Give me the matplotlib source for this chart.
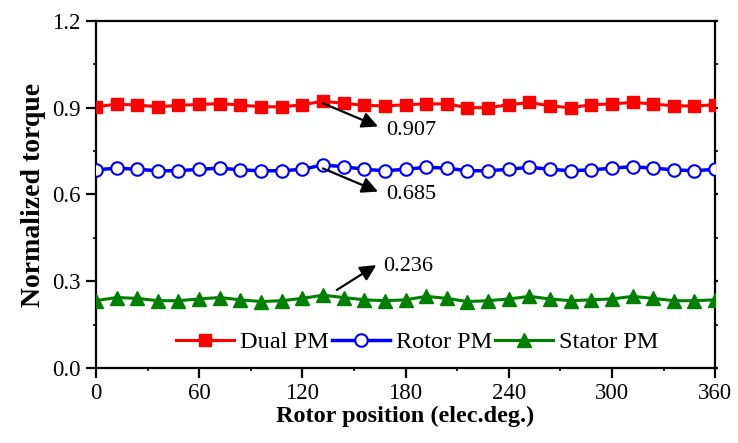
import numpy as np
import matplotlib
matplotlib.use('Agg')
import matplotlib.pyplot as plt
from matplotlib.ticker import MultipleLocator

plt.rcParams['font.family'] = ['Liberation Serif', 'DejaVu Serif']

# rotor position, 12 elec.deg. steps
pos = np.arange(0, 361, 12)

dual_pm = [0.903, 0.912, 0.909, 0.903, 0.908, 0.911, 0.914, 0.909, 0.903, 0.903, 0.910,
           0.922, 0.915, 0.908, 0.906, 0.910, 0.913, 0.913, 0.900, 0.900, 0.910, 0.918,
           0.906, 0.900, 0.910, 0.913, 0.918, 0.913, 0.906, 0.906, 0.910]
rotor_pm = [0.685, 0.691, 0.687, 0.682, 0.682, 0.687, 0.691, 0.685, 0.682, 0.682, 0.687,
            0.702, 0.696, 0.687, 0.682, 0.687, 0.694, 0.691, 0.682, 0.682, 0.687, 0.694,
            0.687, 0.682, 0.685, 0.691, 0.696, 0.691, 0.685, 0.682, 0.687]
stator_pm = [0.233, 0.244, 0.241, 0.233, 0.233, 0.239, 0.244, 0.236, 0.230, 0.233, 0.241,
             0.252, 0.244, 0.236, 0.233, 0.236, 0.248, 0.241, 0.230, 0.233, 0.239, 0.248,
             0.239, 0.233, 0.236, 0.239, 0.248, 0.241, 0.233, 0.233, 0.236]

# annotations: (text, arrow start, arrow tip, text position)
notes = [
    ('0.907', (132, 0.915), (164, 0.835), (169, 0.820)),
    ('0.685', (132, 0.690), (164, 0.610), (169, 0.600)),
    ('0.236', (140, 0.270), (163, 0.356), (167, 0.350)),
]

fig = plt.figure(figsize=(7.38, 4.43), dpi=100)
ax = fig.add_axes([0.130, 0.169, 0.839, 0.784])

ax.plot(pos, dual_pm, color='red', lw=2.2, marker='s', ms=9, label='Dual PM', zorder=3)
ax.plot(pos, rotor_pm, color='blue', lw=2.5, marker='o', ms=9, mfc='white', mew=1.5,
        label='Rotor PM', zorder=3)
ax.plot(pos, stator_pm, color='green', lw=2.2, marker='^', ms=10, label='Stator PM', zorder=3)

for txt, start, tip, tpos in notes:
    ax.annotate('', xy=tip, xytext=start,
                arrowprops=dict(arrowstyle='-|>', color='black', lw=1.6, mutation_scale=24,
                                shrinkA=0, shrinkB=0))
    ax.text(tpos[0], tpos[1], txt, fontsize=16, va='center', ha='left')

ax.set_xlim(0, 360)
ax.set_ylim(0, 1.2)
ax.xaxis.set_major_locator(MultipleLocator(60))
ax.xaxis.set_minor_locator(MultipleLocator(30))
ax.yaxis.set_major_locator(MultipleLocator(0.3))
ax.yaxis.set_minor_locator(MultipleLocator(0.15))
ax.yaxis.set_major_formatter(matplotlib.ticker.FormatStrFormatter('%.1f'))

for s in ax.spines.values():
    s.set_linewidth(1.6)
ax.tick_params(which='major', direction='out', length=7, width=1.6, labelsize=16.5, pad=4)
ax.tick_params(which='minor', direction='out', length=2.5, width=1.2)
ax.tick_params(axis='y', which='both', right=True)
for t in ax.yaxis.get_major_ticks() + ax.yaxis.get_minor_ticks():
    t.tick2line.set_markersize(2.5)

ax.set_xlabel('Rotor position (elec.deg.)', fontsize=17.5, fontweight='bold', labelpad=1)
ax.set_ylabel('Normalized torque', fontsize=20, fontweight='bold', labelpad=4)

ax.legend(loc='center', bbox_to_anchor=(0.519, 0.075), ncol=3, frameon=False, fontsize=17.5,
          handlelength=2.4, handletextpad=0.25, columnspacing=0.1, borderpad=0.1)

fig.savefig('out.png', dpi=100)
